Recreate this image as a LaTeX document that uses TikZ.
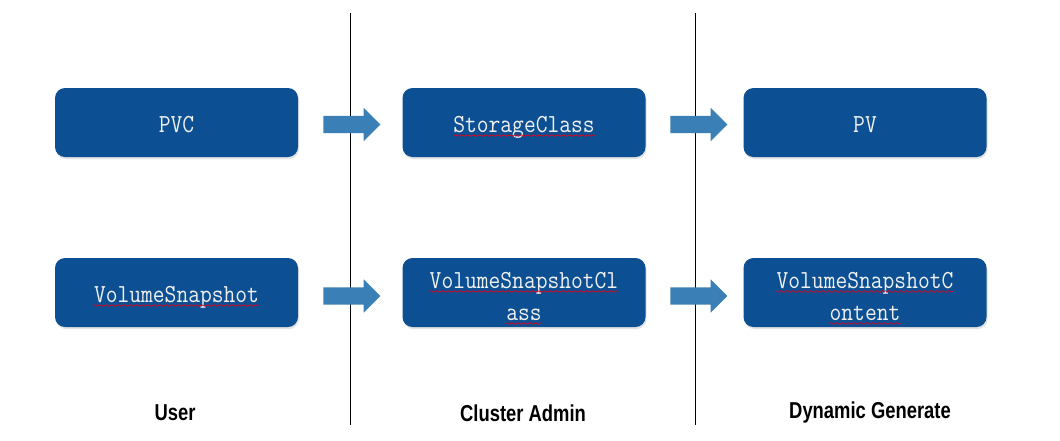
\documentclass[tikz,border=0pt]{standalone}
\usepackage{fontspec}
\newfontfamily\labelfont[FakeStretch=0.8]{Liberation Sans}
\newfontfamily\boxmono[FakeStretch=0.88]{Latin Modern Mono}
\usetikzlibrary{shapes.arrows,shadows,decorations.pathmorphing}
\definecolor{boxblue}{RGB}{12,79,146}
\definecolor{arrowblue}{RGB}{58,128,182}
\definecolor{txtwhite}{RGB}{240,240,240}
\tikzset{
  objbox/.style={draw=none, fill=boxblue, rounded corners=10pt, minimum width=243pt, minimum height=69pt, inner sep=0pt,
    drop shadow={opacity=0.22, shadow xshift=1pt, shadow yshift=-2pt}},
  objtext/.style={text=txtwhite, inner sep=0pt, anchor=base, font=\boxmono\fontsize{26}{30}\selectfont},
  blockarrow/.style={single arrow, fill=arrowblue, draw=none, minimum height=57pt, minimum width=33pt,
    single arrow head extend=8pt, single arrow head indent=0pt, inner xsep=0pt, inner ysep=8.5pt,
    text height=0pt, text depth=0pt, shape border rotate=0},
  divider/.style={draw=black, line width=0.8pt},
  rolelabel/.style={font=\labelfont\bfseries\fontsize{23}{26}\selectfont, inner sep=0pt},
  squiggle/.style={draw=red!70!purple, line width=0.5pt, decorate, decoration={snake, amplitude=0.8pt, segment length=3pt}}
}
\begin{document}
\begin{tikzpicture}[x=1pt,y=-1pt]
\useasboundingbox (0,0) rectangle (1060,440);
\fill[white] (0,0) rectangle (1060,440);
% dividers
\coordinate (d1t) at (350,13); \coordinate (d1b) at (350,425);
\coordinate (d2t) at (695,13); \coordinate (d2b) at (695,425);
\draw[divider] (d1t) -- (d1b);
\draw[divider] (d2t) -- (d2b);
% boxes
\node[objbox] (pvc) at (176.5,122.5) {};
\node[objbox] (sc) at (524,122.5) {};
\node[objbox] (pv) at (865,122.5) {};
\node[objbox] (vs) at (176.5,292.5) {};
\node[objbox] (vsc) at (524,292.5) {};
\node[objbox] (vscont) at (865,292.5) {};
% texts
\node[objtext] (tpvc) at ([yshift=-9.5pt]pvc.center) {PVC};
\node[objtext] (tsc) at ([yshift=-9.5pt]sc.center) {StorageClass};
\node[objtext] (tpv) at ([yshift=-9.5pt]pv.center) {PV};
\node[objtext] (tvs) at ([yshift=-9.5pt]vs.center) {VolumeSnapshot};
\node[objtext] (tvsc1) at ([yshift=4.5pt]vsc.center) {VolumeSnapshotCl};
\node[objtext] (tvsc2) at ([yshift=-27.5pt]vsc.center) {ass};
\node[objtext] (tvsco1) at ([yshift=4.5pt]vscont.center) {VolumeSnapshotC};
\node[objtext] (tvsco2) at ([yshift=-27.5pt]vscont.center) {ontent};
% spell-check squiggles
\foreach \t in {tsc,tvs,tvsc1,tvsc2,tvsco1,tvsco2}{
  \draw[squiggle] ([yshift=-3.5pt]\t.base west) -- ([yshift=-3.5pt]\t.base east);
}
% arrows
\node[blockarrow] (a1) at (347.5,124.5) {};
\node[blockarrow] (a2) at (694.5,124.5) {};
\node[blockarrow] (a3) at (347.5,296) {};
\node[blockarrow] (a4) at (694.5,296) {};
% role labels
\node[rolelabel] (luser) at (175,413) {User};
\node[rolelabel] (ladmin) at (523,413) {Cluster Admin};
\node[rolelabel] (lgen) at (870,413) {Dynamic Generate};
\end{tikzpicture}
\end{document}
